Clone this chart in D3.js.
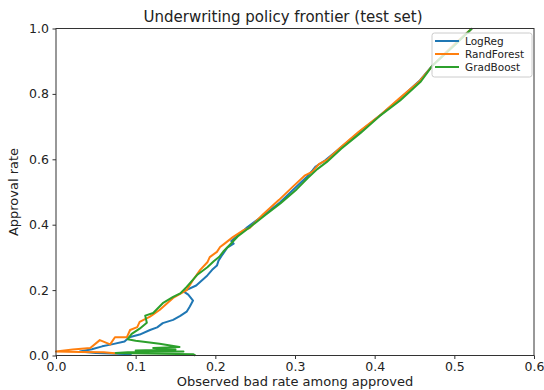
<!DOCTYPE html>
<html>
<head>
<meta charset="utf-8">
<script src="https://cdn.jsdelivr.net/npm/d3@7"></script>
<style>
  body { margin: 0; background: #fff; }
  svg { font-family: "DejaVu Sans", sans-serif; }
</style>
</head>
<body>
<div id="chart"></div>
<script>
// series: [bad rate among approved, approval rate]
const logReg = [
  [0.522,1.0],[0.50,0.95],[0.473,0.888],[0.457,0.842],[0.43,0.782],[0.407,0.735],[0.38,0.682],
  [0.356,0.633],[0.338,0.597],[0.326,0.578],[0.322,0.566],[0.315,0.547],[0.30,0.512],[0.281,0.468],
  [0.26,0.428],[0.24,0.392],[0.226,0.362],[0.22,0.35],[0.223,0.342],[0.215,0.33],[0.208,0.305],
  [0.204,0.29],[0.202,0.275],[0.196,0.262],[0.19,0.245],[0.176,0.214],[0.16,0.196],[0.166,0.186],
  [0.172,0.168],[0.168,0.15],[0.164,0.134],[0.156,0.121],[0.147,0.109],[0.134,0.099],[0.127,0.086],
  [0.118,0.078],[0.105,0.064],[0.092,0.056],[0.086,0.043],[0.07,0.034],[0.058,0.028],[0.045,0.019],
  [0.03,0.012],[0.05,0.008],[0.095,0.004]
];
const randForest = [
  [0.522,1.0],[0.50,0.952],[0.474,0.89],[0.456,0.838],[0.43,0.784],[0.408,0.737],[0.38,0.684],
  [0.357,0.636],[0.34,0.598],[0.33,0.585],[0.322,0.562],[0.312,0.55],[0.298,0.518],[0.28,0.476],
  [0.26,0.432],[0.243,0.39],[0.236,0.384],[0.222,0.362],[0.212,0.343],[0.206,0.332],[0.202,0.317],
  [0.193,0.301],[0.19,0.285],[0.181,0.262],[0.172,0.231],[0.164,0.2],[0.147,0.176],[0.13,0.139],
  [0.118,0.119],[0.105,0.103],[0.102,0.087],[0.093,0.078],[0.089,0.056],[0.074,0.056],[0.068,0.034],
  [0.055,0.047],[0.043,0.023],[0.021,0.018],[0.0,0.012],[0.03,0.011],[0.06,0.01],[0.077,0.006]
];
const gradBoost = [
  [0.522,1.0],[0.50,0.948],[0.472,0.885],[0.458,0.838],[0.432,0.78],[0.406,0.732],[0.382,0.68],
  [0.358,0.632],[0.34,0.592],[0.328,0.57],[0.316,0.543],[0.302,0.508],[0.282,0.466],[0.262,0.428],
  [0.242,0.39],[0.228,0.364],[0.218,0.338],[0.21,0.318],[0.205,0.302],[0.198,0.288],[0.19,0.27],
  [0.177,0.246],[0.164,0.21],[0.156,0.19],[0.147,0.179],[0.134,0.16],[0.122,0.13],[0.112,0.122],
  [0.114,0.1],[0.105,0.082],[0.095,0.066],[0.09,0.05],[0.1,0.045],[0.13,0.036],[0.155,0.026],
  [0.122,0.023],[0.15,0.018],[0.1,0.015],[0.16,0.012],[0.09,0.01],[0.075,0.008],[0.172,0.004],[0.175,0.0]
];

const seriesNames = ["LogReg", "RandForest", "GradBoost"];
const seriesData = [logReg, randForest, gradBoost];
const colors = ["#1f77b4", "#ff7f0e", "#2ca02c"];
const xTicks = [0, 0.1, 0.2, 0.3, 0.4, 0.5, 0.6];
const yTicks = [0, 0.2, 0.4, 0.6, 0.8, 1.0];

const W = 544, H = 390;
const margin = { top: 28.5, right: 10, bottom: 34.5, left: 56 };

const svg = d3.select("#chart").append("svg")
  .attr("width", W)
  .attr("height", H);

const x = d3.scaleLinear([0, 0.6], [margin.left, W - margin.right]);
const y = d3.scaleLinear([0, 1], [H - margin.bottom, margin.top]);

// lines
const line = d3.line().x(d => x(d[0])).y(d => y(d[1]));
const plot = svg.append("g");
seriesData.forEach((s, i) => {
  plot.append("path")
    .datum(s)
    .attr("d", line)
    .attr("fill", "none")
    .attr("stroke", colors[i])
    .attr("stroke-width", 2)
    .attr("stroke-linejoin", "round");
});

// axes
const xAxis = svg.append("g")
  .attr("transform", `translate(0,${H - margin.bottom})`)
  .call(d3.axisBottom(x).tickValues(xTicks).tickFormat(d3.format(".1f")).tickSizeOuter(0).tickSize(3.5).tickPadding(3.5));
const yAxis = svg.append("g")
  .attr("transform", `translate(${margin.left},0)`)
  .call(d3.axisLeft(y).tickValues(yTicks).tickFormat(d3.format(".1f")).tickSizeOuter(0).tickSize(3.5).tickPadding(3.5));
[xAxis, yAxis].forEach(g => {
  g.selectAll("text").attr("font-size", 12.5).attr("fill", "#222").attr("font-family", "DejaVu Sans");
  g.selectAll("line").attr("stroke", "#333");
  g.select(".domain").remove();
});

// frame
svg.append("rect")
  .attr("x", margin.left).attr("y", margin.top)
  .attr("width", W - margin.left - margin.right)
  .attr("height", H - margin.top - margin.bottom)
  .attr("fill", "none").attr("stroke", "#333").attr("stroke-width", 1);

// title and labels
svg.append("text")
  .attr("x", (margin.left + W - margin.right) / 2 - 12).attr("y", 22)
  .attr("text-anchor", "middle").attr("font-size", 15).attr("fill", "#222")
  .text("Underwriting policy frontier (test set)");
svg.append("text")
  .attr("x", (margin.left + W - margin.right) / 2).attr("y", 386)
  .attr("text-anchor", "middle").attr("font-size", 13).attr("fill", "#222")
  .text("Observed bad rate among approved");
svg.append("text")
  .attr("transform", `translate(18,${(margin.top + H - margin.bottom) / 2}) rotate(-90)`)
  .attr("text-anchor", "middle").attr("font-size", 13).attr("fill", "#222")
  .text("Approval rate");

// legend
const legend = svg.append("g").attr("transform", "translate(432,33)");
legend.append("rect")
  .attr("width", 100).attr("height", 44).attr("rx", 2.5)
  .attr("fill", "white").attr("fill-opacity", 0.8)
  .attr("stroke", "#ccc").attr("stroke-width", 1);
seriesNames.forEach((name, i) => {
  const yy = 8 + i * 13;
  legend.append("line")
    .attr("x1", 3).attr("x2", 27).attr("y1", yy).attr("y2", yy)
    .attr("stroke", colors[i]).attr("stroke-width", 2);
  legend.append("text")
    .attr("x", 33).attr("y", yy).attr("dy", "0.35em")
    .attr("font-size", 10.5).attr("fill", "#222")
    .text(name);
});
</script>
</body>
</html>
